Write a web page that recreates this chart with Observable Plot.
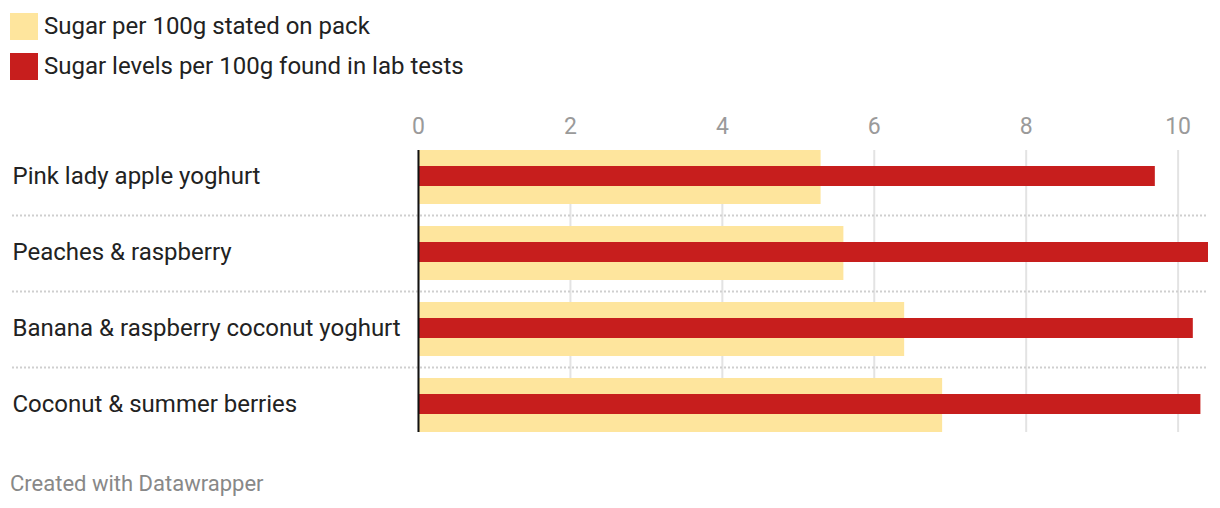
<!DOCTYPE html>
<html>
<head>
<meta charset="utf-8">
<script src="https://cdn.jsdelivr.net/npm/d3@7"></script>
<script src="https://cdn.jsdelivr.net/npm/@observablehq/plot@0.6"></script>
<style>
  html, body { margin: 0; padding: 0; background: #fff; width: 1220px; height: 508px; overflow: hidden; font-family: Roboto, "Noto Sans", sans-serif; }
  #legend { position: absolute; left: 10px; top: 12px; }
  .item { display: flex; align-items: center; height: 28px; margin-bottom: 12px; }
  .sw { width: 28px; height: 27px; margin-right: 6px; }
  .lbl { font-size: 24px; color: #222; }
  #chart { position: absolute; left: 0; top: 100px; }
  #footer { position: absolute; left: 10px; top: 471px; font-size: 22px; color: #888; }
</style>
</head>
<body>
<div id="legend"></div>
<div id="chart"></div>
<div id="footer">Created with Datawrapper</div>
<script>
const categories = ["Pink lady apple yoghurt", "Peaches & raspberry", "Banana & raspberry coconut yoghurt", "Coconut & summer berries"];
const statedValues = [5.3, 5.6, 6.4, 6.9];
const labValues = [9.7, 10.4, 10.2, 10.3];
const seriesNames = ["Sugar per 100g stated on pack", "Sugar levels per 100g found in lab tests"];
const seriesColors = ["#fee59d", "#c71e1d"];
const xTicks = [0, 2, 4, 6, 8, 10];

const legend = document.getElementById("legend");
seriesNames.forEach((name, i) => {
  const it = document.createElement("div");
  it.className = "item";
  it.innerHTML = `<div class="sw" style="background:${seriesColors[i]}"></div><span class="lbl">${name}</span>`;
  legend.appendChild(it);
});

const stated = categories.map((c, i) => ({category: c, value: statedValues[i]}));
const lab = categories.map((c, i) => ({category: c, value: labValues[i]}));

const chart = Plot.plot({
  width: 1220,
  height: 340,
  marginTop: 50,
  marginBottom: 8,
  marginLeft: 12,
  marginRight: 12,
  style: {fontFamily: "Roboto, 'Noto Sans', sans-serif", background: "#fff"},
  x: {domain: [0, 10.4], range: [418, 1208], axis: null},
  y: {domain: categories, paddingInner: 22 / 76, paddingOuter: 0, axis: null},
  marks: [
    Plot.ruleX(xTicks, {stroke: "#e3e3e3", strokeWidth: 2}),
    Plot.ruleY(categories.slice(0, -1), {y: d => d, dy: 38, stroke: "#cfcfcf", strokeWidth: 2, strokeDasharray: "2,2"}),
    Plot.barX(stated, {x: "value", y: "category", fill: seriesColors[0]}),
    Plot.barX(lab, {x: "value", y: "category", fill: seriesColors[1], insetTop: 16, insetBottom: 18}),
    Plot.ruleX([0], {stroke: "#111", strokeWidth: 2}),
    Plot.text(xTicks, {x: d => d, text: d => String(d), frameAnchor: "top", lineAnchor: "middle", dy: -24, fontSize: 23, fill: "#9a9a9a"}),
    Plot.text(categories, {y: d => d, text: d => d, frameAnchor: "left", textAnchor: "start", lineAnchor: "middle", dy: -1, fontSize: 24, fill: "#222"})
  ]
});
document.getElementById("chart").appendChild(chart);
</script>
</body>
</html>
